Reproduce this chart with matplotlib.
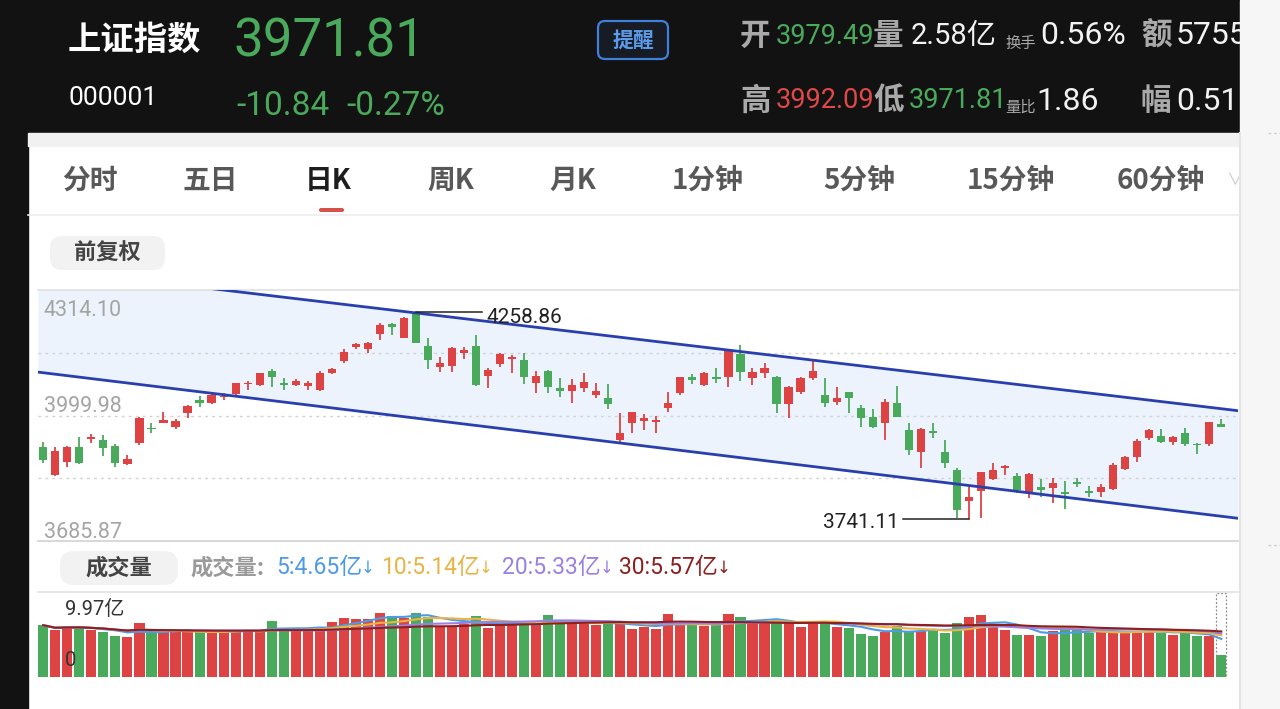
import matplotlib
matplotlib.use("Agg")
import matplotlib.pyplot as plt
from matplotlib import font_manager
from matplotlib.patches import Rectangle, FancyBboxPatch
import numpy as np
import pandas as pd

# ---- data ----
opens = [3922.0, 3851.1, 3884.4, 3920.3, 3941.2, 3938.7, 3924.5, 3878.6, 3930.3, 3969.5,
         3982.0, 3972.0, 4005.4, 4038.8, 4030.4, 4045.5, 4053.8, 4078.0, 4076.3, 4111.4,
         4080.5, 4076.3, 4074.7, 4063.8, 4107.2, 4136.4, 4172.3, 4165.6, 4204.0, 4229.0,
         4194.8, 4257.0, 4173.9, 4122.2, 4123.9, 4155.6, 4173.9, 4098.9, 4128.9, 4141.4,
         4138.9, 4082.2, 4111.4, 4068.0, 4062.1, 4069.6, 4051.3, 4044.6, 3938.7, 3980.4,
         3987.0, 3982.9, 4017.9, 4055.5, 4095.5, 4076.3, 4097.2, 4097.2, 4153.9, 4093.0,
         4105.5, 4097.2, 4028.8, 4059.6, 4093.0, 4051.3, 4034.6, 4058.0, 4017.9, 3995.4,
         3980.4, 4030.4, 3963.7, 3909.5, 3962.0, 3909.5, 3863.6, 3786.8, 3811.8, 3840.2,
         3867.7, 3849.4, 3809.4, 3821.9, 3819.4, 3809.4, 3834.4, 3811.8, 3809.4, 3815.2,
         3865.2, 3896.9, 3942.8, 3948.7, 3934.5, 3955.4, 3929.0, 3928.6, 3979.49]
highs = [3934.5, 3922.0, 3923.7, 3947.0, 3953.7, 3951.2, 3928.7, 3901.1, 3995.4, 3980.4,
         4009.6, 3990.4, 4026.3, 4048.8, 4053.8, 4055.5, 4082.2, 4087.2, 4107.0, 4115.5,
         4093.0, 4090.5, 4087.2, 4112.2, 4119.7, 4165.6, 4182.3, 4184.8, 4230.7, 4232.3,
         4245.7, 4258.86, 4193.1, 4147.2, 4172.3, 4170.6, 4201.5, 4119.7, 4155.6, 4151.4,
         4155.6, 4111.4, 4113.9, 4093.0, 4090.5, 4107.2, 4080.5, 4078.0, 4007.1, 4009.6,
         4003.7, 3998.7, 4059.6, 4097.2, 4103.8, 4109.7, 4118.0, 4165.6, 4176.4, 4118.0,
         4132.2, 4098.8, 4073.8, 4097.2, 4140.6, 4093.0, 4072.1, 4059.6, 4026.3, 4015.4,
         4040.4, 4073.8, 3982.0, 3967.9, 3980.4, 3938.7, 3867.7, 3826.0, 3859.4, 3881.9,
         3876.1, 3856.9, 3855.2, 3840.2, 3842.7, 3836.9, 3842.7, 3823.5, 3827.7, 3880.2,
         3898.6, 3940.3, 3965.4, 3965.4, 3948.7, 3967.9, 3930.3, 3984.5, 3992.09]
lows = [3880.3, 3849.0, 3871.9, 3879.0, 3930.3, 3899.5, 3870.2, 3876.1, 3926.2, 3955.4,
        3980.4, 3966.2, 3992.9, 4022.1, 4029.0, 4038.8, 4051.3, 4063.8, 4075.0, 4072.2,
        4063.8, 4073.8, 4063.8, 4062.0, 4103.9, 4130.6, 4165.6, 4155.6, 4189.0, 4201.5,
        4193.0, 4180.6, 4115.5, 4109.7, 4109.7, 4141.4, 4073.8, 4068.0, 4120.5, 4105.5,
        4078.8, 4057.1, 4057.1, 4045.5, 4032.1, 4059.6, 4042.9, 4015.4, 3928.7, 3955.4,
        3963.7, 3957.0, 4009.6, 4051.3, 4078.8, 4074.6, 4080.5, 4070.5, 4086.3, 4076.3,
        4093.0, 4007.1, 3992.9, 4053.8, 4088.8, 4020.4, 4026.3, 4005.4, 3972.0, 3967.9,
        3938.7, 3995.0, 3901.1, 3867.7, 3942.8, 3867.7, 3743.0, 3741.11, 3744.0, 3839.0,
        3851.1, 3806.8, 3792.7, 3796.8, 3780.1, 3765.1, 3821.9, 3796.8, 3796.8, 3813.5,
        3863.6, 3884.4, 3938.7, 3930.3, 3926.2, 3923.6, 3903.6, 3923.6, 3971.81]
closes = [3888.6, 3911.1, 3920.3, 3881.1, 3947.0, 3919.5, 3880.3, 3890.3, 3992.9, 3965.4,
          3988.7, 3986.2, 4023.8, 4030.4, 4051.3, 4048.8, 4080.5, 4082.2, 4105.5, 4095.5,
          4076.3, 4087.2, 4080.5, 4107.2, 4115.5, 4159.8, 4178.9, 4180.6, 4226.5, 4220.7,
          4243.2, 4182.3, 4138.9, 4132.2, 4169.8, 4163.9, 4076.3, 4113.9, 4153.1, 4147.2,
          4095.5, 4098.9, 4070.5, 4062.1, 4076.3, 4084.7, 4061.3, 4028.8, 3957.0, 4007.9,
          3994.6, 3988.7, 4030.4, 4095.5, 4088.8, 4107.2, 4090.5, 4162.2, 4109.7, 4109.7,
          4119.7, 4028.8, 4072.1, 4093.0, 4112.2, 4030.4, 4042.9, 4042.9, 3992.9, 3972.0,
          4034.6, 3997.1, 3913.6, 3965.4, 3955.4, 3881.9, 3763.5, 3795.2, 3858.0, 3863.6,
          3873.6, 3813.5, 3854.0, 3813.5, 3830.2, 3803.5, 3828.5, 3805.2, 3821.9, 3876.1,
          3896.9, 3937.0, 3963.7, 3934.5, 3945.3, 3928.6, 3925.0, 3982.65, 3971.81]
# volume in 亿
volumes = [6.14, 5.55, 5.94, 5.94, 5.59, 5.36, 4.89, 4.69, 6.37, 5.36,
           5.36, 5.36, 5.36, 5.36, 5.36, 5.43, 5.47, 5.55, 5.55, 6.61,
           5.59, 5.59, 5.59, 5.98, 6.53, 7.00, 6.84, 6.92, 7.62, 7.23,
           7.04, 7.62, 7.16, 6.06, 6.06, 6.26, 7.23, 5.87, 6.14, 6.37,
           6.45, 6.18, 7.31, 6.45, 6.37, 6.45, 6.14, 6.53, 6.37, 5.75,
           5.90, 5.67, 7.43, 6.37, 6.14, 6.06, 6.26, 7.43, 7.12, 6.45,
           6.53, 6.76, 6.53, 5.94, 6.45, 6.45, 5.98, 5.87, 5.08, 4.89,
           5.36, 6.06, 5.47, 5.47, 5.67, 5.28, 6.37, 7.12, 7.31, 6.06,
           5.59, 5.04, 4.97, 4.89, 5.47, 5.67, 5.59, 5.20, 5.36, 5.36,
           5.43, 5.47, 5.36, 5.28, 4.97, 5.36, 4.89, 4.81, 2.58]

price_ticks = [4314.10, 3999.98, 3685.87]
vol_top = 9.97
vol_ma_periods = [5, 10, 20, 30]
vol_ma_values = [4.65, 5.14, 5.33, 5.57]

# descending channel drawn on the chart (index, price)
channel_x = [-0.44, 99.39]
channel_upper = [4369.2, 4012.0]
channel_lower = [4108.6, 3742.7]

tabs = ["分时", "五日", "日K", "周K", "月K", "1分钟", "5分钟", "15分钟", "60分钟"]
tab_x = [62, 182, 305, 427, 549, 672, 823, 967, 1117]

RED = "#dd4343"
GREEN = "#4aaa5c"
MA_COLORS = ["#4d9be6", "#e8b444", "#9a80e2", "#8e1f1f"]

_installed = {f.name for f in font_manager.fontManager.ttflist}
NARROW = "Liberation Sans Narrow" if "Liberation Sans Narrow" in _installed else "Roboto"
CJK = "Noto Sans CJK SC"
NUM = [NARROW, CJK, "DejaVu Sans"]
REG = ["Roboto", CJK, "DejaVu Sans"]
plt.rcParams["font.family"] = [CJK, "DejaVu Sans"]

fig = plt.figure(figsize=(12.8, 7.09), dpi=100)
W, H = 1280, 709

# ---- background / app chrome in pixel coordinates ----
bg = fig.add_axes([0, 0, 1, 1])
bg.set_xlim(0, W)
bg.set_ylim(H, 0)
bg.axis("off")
bg.add_patch(Rectangle((0, 0), W, H, color="white", zorder=0))
bg.add_patch(Rectangle((0, 0), 1240, 133, color="#121212", zorder=1))
bg.add_patch(Rectangle((0, 0), 28, H, color="#121212", zorder=1))
bg.add_patch(Rectangle((28, 133), 1212, 13, color="#f1f1f1", zorder=1))
bg.add_patch(Rectangle((1240, 0), 40, H, color="#f6f6f6", zorder=10))
bg.plot([1240, 1240], [133, H], color="#e4e4e4", lw=1.5, zorder=11)
bg.plot([1268, 1280], [133, 133], color="#cfcfcf", lw=1, ls=(0, (2, 2)), zorder=11)
bg.plot([1268, 1280], [545, 545], color="#cfcfcf", lw=1, ls=(0, (2, 2)), zorder=11)

# header
bg.text(68, 40, "上证指数", color="white", fontsize=24, fontweight="bold", va="center", family=[CJK])
bg.text(234, 42, "3971.81", color=GREEN, fontsize=38, va="center", family=NUM)
bg.text(68, 98, "000001", color="white", fontsize=19, va="center", family=NUM)
bg.text(236, 106, "-10.84", color=GREEN, fontsize=24, va="center", family=NUM)
bg.text(346, 106, "-0.27%", color=GREEN, fontsize=24, va="center", family=NUM)
bg.add_patch(FancyBboxPatch((598, 21), 70, 38, boxstyle="round,pad=0,rounding_size=7",
                            fc="#161b24", ec="#3f80d8", lw=1.6, zorder=2))
bg.text(633, 40, "提醒", color="#5b9be9", fontsize=15, fontweight="bold", ha="center", va="center",
        family=[CJK], zorder=3)

GRAY = "#a9a9a9"
WHITE = "#f2f2f2"
for lab, x, y in [("开", 740, 36), ("量", 873, 36), ("额", 1141, 36),
                  ("高", 740, 101), ("低", 873, 101), ("幅", 1141, 101)]:
    bg.text(x, y, lab, color=GRAY, fontsize=22, fontweight="bold", va="center", family=[CJK])
bg.text(776, 36, "3979.49", color=GREEN, fontsize=19.5, va="center", family=NUM)
bg.text(911, 36, "2.58亿", color=WHITE, fontsize=21, va="center", family=NUM)
bg.text(1005, 43, "换手", color=GRAY, fontsize=11, va="center", family=[CJK])
bg.text(1040, 36, "0.56%", color=WHITE, fontsize=23, va="center", family=NUM)
bg.text(1176, 36, "5755", color=WHITE, fontsize=23, va="center", family=NUM)
bg.text(776, 101, "3992.09", color="#e04848", fontsize=19.5, va="center", family=NUM)
bg.text(909, 101, "3971.81", color=GREEN, fontsize=19.5, va="center", family=NUM)
bg.text(1005, 107, "量比", color=GRAY, fontsize=11, va="center", family=[CJK])
bg.text(1036, 101, "1.86", color=WHITE, fontsize=23, va="center", family=NUM)
bg.text(1176, 101, "0.51%", color=WHITE, fontsize=23, va="center", family=NUM)

# period tabs
for name, x in zip(tabs, tab_x):
    active = name == "日K"
    bg.text(x, 181, name, color="#1e1e1e" if active else "#585858", fontsize=20,
            fontweight="bold", va="center", family=[CJK])
bg.text(1226, 180, "∨", color="#cccccc", fontsize=12, va="center", family=[CJK, "DejaVu Sans"])
bg.add_patch(FancyBboxPatch((319, 208), 25, 4, boxstyle="round,pad=0,rounding_size=2",
                            fc="#d6504c", ec="none", zorder=2))
bg.plot([28, 1240], [215, 215], color="#ededed", lw=1.2, zorder=2)

bg.add_patch(FancyBboxPatch((50, 236), 115, 34, boxstyle="round,pad=0,rounding_size=12",
                            fc="#f2f2f2", ec="none", zorder=2))
bg.text(107, 253, "前复权", color="#444444", fontsize=16, fontweight="bold", ha="center", va="center",
        family=[CJK], zorder=3)

# volume legend row
bg.add_patch(FancyBboxPatch((60, 551), 118, 34, boxstyle="round,pad=0,rounding_size=14",
                            fc="#f2f2f2", ec="none", zorder=2))
bg.text(119, 568, "成交量", color="#444444", fontsize=16, fontweight="bold", ha="center", va="center",
        family=[CJK], zorder=3)
bg.text(190, 568, "成交量:", color="#9a9a9a", fontsize=16, fontweight="bold", va="center", family=[CJK])
for p, v, col, x in zip(vol_ma_periods, vol_ma_values, MA_COLORS, [276, 381, 502, 619]):
    t = bg.text(x, 568, f"{p}:{v:.2f}亿", color=col, fontsize=16.5, va="center", family=REG)
    bg.annotate("↓", xy=(1, 0.5), xycoords=t, xytext=(-1, 0), textcoords="offset pixels",
                color=col, fontsize=12, va="center", ha="left", family=["DejaVu Sans"])
bg.plot([38, 1238], [592, 592], color="#e2e2e2", lw=1.2, zorder=2)

# ---- candlestick chart ----
o, h, l, c = map(np.array, (opens, highs, lows, closes))
x = np.arange(len(c))
colors = np.where(c >= o, RED, GREEN)

ax = fig.add_axes([38 / W, 1 - 541 / H, 1200 / W, 251 / H])
ax.set_facecolor("none")
ax.set_xlim(-0.44, 99.39)
ax.set_ylim(price_ticks[-1], price_ticks[0])
ax.set_xticks([])
ax.set_yticks([])
for side in ["left", "right"]:
    ax.spines[side].set_visible(False)
ax.spines["top"].set_color("#e0e0e0")
ax.spines["bottom"].set_color("#d2d2d2")
ax.spines["top"].set_linewidth(1.2)
ax.spines["bottom"].set_linewidth(1.2)

ax.fill_between(channel_x, channel_lower, channel_upper, color="#edf3fd", lw=0, zorder=1)
for g in np.linspace(price_ticks[-1], price_ticks[0], 5)[1:-1]:
    ax.axhline(g, color="#d2d2d2", lw=1, ls=(0, (2, 3)), zorder=2)
ax.plot(channel_x, channel_upper, color="#2a3fae", lw=2, zorder=6)
ax.plot(channel_x, channel_lower, color="#2a3fae", lw=2, zorder=6)

ax.vlines(x, l, h, colors=colors, lw=1.3, zorder=4)
ax.bar(x, np.maximum(np.abs(c - o), 3.0), bottom=np.minimum(o, c), width=0.68,
       color=colors, lw=0, zorder=5)

# axis value labels
for v, off, va in zip(price_ticks, [-10, -1, -2], ["top", "bottom", "bottom"]):
    ax.annotate(f"{v:.2f}", xy=(0, v), xycoords=("axes fraction", "data"), xytext=(6, off),
                textcoords="offset pixels", color="#a4a4a4", fontsize=15.5, va=va, ha="left",
                family=REG, zorder=7)

# highest / lowest markers
hi = int(np.argmax(h))
ax.plot([hi, hi + 5.5], [h[hi], h[hi]], color="#222222", lw=1.1, zorder=7)
ax.annotate(f"{h[hi]:.2f}", xy=(hi + 5.5, h[hi]), xytext=(4, -5), textcoords="offset pixels",
            fontsize=15, va="center", ha="left", color="#222222", family=REG, zorder=7)
lo = int(np.argmin(l))
ax.plot([lo - 5.45, lo], [l[lo], l[lo]], color="#222222", lw=1.1, zorder=7)
ax.annotate(f"{l[lo]:.2f}", xy=(lo - 5.45, l[lo]), xytext=(-4, -4), textcoords="offset pixels",
            fontsize=15, va="center", ha="right", color="#222222", family=REG, zorder=7)

# ---- volume ----
axv = fig.add_axes([38 / W, 1 - 677 / H, 1200 / W, 84 / H])
axv.set_facecolor("none")
axv.set_xlim(-0.44, 99.39)
axv.set_ylim(0, vol_top)
axv.axis("off")
axv.bar(x, volumes, width=0.84, color=colors, lw=0, zorder=2)
vol = pd.Series(volumes)
for p, col in zip(vol_ma_periods, MA_COLORS):
    axv.plot(x, vol.rolling(p, min_periods=1).mean(), color=col, lw=1.5, zorder=3)
axv.add_patch(Rectangle((x[-1] - 0.42, 0), 0.84, vol_top, fill=False, ec="#8a8a8a",
                        lw=0.9, ls=(0, (1.5, 1.5)), zorder=4))
axv.annotate(f"{vol_top:.2f}亿", xy=(0, vol_top), xycoords=("axes fraction", "data"), xytext=(27, -7),
             textcoords="offset pixels", fontsize=14.5, va="top", ha="left", color="#333333",
             family=REG, zorder=5)
axv.annotate("0", xy=(0, 0), xycoords=("axes fraction", "data"), xytext=(27, 7),
             textcoords="offset pixels", fontsize=14.5, va="bottom", ha="left", color="#333333",
             family=REG, zorder=5)

fig.savefig("out.png", dpi=100)
